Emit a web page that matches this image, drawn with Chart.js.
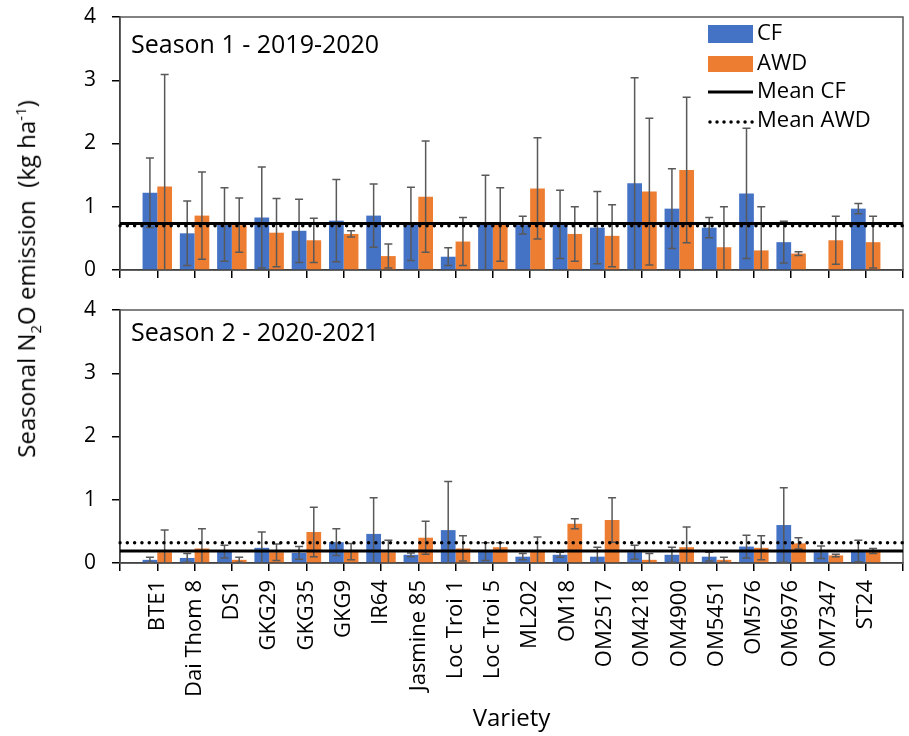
<!DOCTYPE html>
<html>
<head>
<meta charset="utf-8">
<script src="https://cdn.jsdelivr.net/npm/chart.js@4.4.1/dist/chart.umd.min.js"></script>
<style>
  body { margin: 0; background: #fff; }
  #wrap { position: relative; width: 909px; height: 736px; font-family: "Open Sans", sans-serif; }
  #topChart { position: absolute; left: 0; top: 0; }
  #bottomChart { position: absolute; left: 0; top: 290px; }
  #yTitle {
    position: absolute; left: 28px; top: 279px;
    transform: translate(-50%, -50%) rotate(-90deg);
    white-space: nowrap; font-size: 24px; color: #000; line-height: 1;
  }
  #yTitle sub, #yTitle sup { font-size: 15px; }
</style>
</head>
<body>
<div id="wrap">
  <canvas id="topChart" width="909" height="290"></canvas>
  <canvas id="bottomChart" width="909" height="446"></canvas>
  <div id="yTitle">Seasonal N<sub>2</sub>O emission&nbsp; (kg ha<sup>-1</sup>)</div>
</div>
<script>
const varieties = ["BTE1", "Dai Thom 8", "DS1", "GKG29", "GKG35", "GKG9", "IR64", "Jasmine 85",
  "Loc Troi 1", "Loc Troi 5", "ML202", "OM18", "OM2517", "OM4218", "OM4900", "OM5451",
  "OM576", "OM6976", "OM7347", "ST24"];

// season 1 (2019-2020)
const cfS1 = [1.22, 0.58, 0.72, 0.83, 0.62, 0.78, 0.86, 0.73, 0.21, 0.72, 0.71, 0.72, 0.67, 1.37, 0.97, 0.67, 1.21, 0.44, null, 0.97];
const cfErrS1 = [0.55, 0.51, 0.58, 0.80, 0.50, 0.65, 0.50, 0.58, 0.14, 0.78, 0.14, 0.54, 0.57, 1.67, 0.63, 0.16, 1.03, 0.33, null, 0.08];
const awdS1 = [1.32, 0.86, 0.71, 0.59, 0.47, 0.57, 0.22, 1.16, 0.45, 0.72, 1.29, 0.57, 0.54, 1.24, 1.58, 0.36, 0.31, 0.26, 0.47, 0.44];
const awdErrS1 = [1.77, 0.69, 0.43, 0.54, 0.35, 0.05, 0.19, 0.88, 0.38, 0.58, 0.80, 0.43, 0.49, 1.16, 1.15, 0.64, 0.69, 0.03, 0.38, 0.41];
const meanCfS1 = 0.735;
const meanAwdS1 = 0.70;

// season 2 (2020-2021)
const cfS2 = [0.05, 0.08, 0.18, 0.24, 0.16, 0.33, 0.46, 0.13, 0.52, 0.18, 0.10, 0.13, 0.10, 0.17, 0.13, 0.10, 0.26, 0.60, 0.17, 0.19];
const cfErrS2 = [0.04, 0.07, 0.10, 0.25, 0.10, 0.21, 0.57, 0.03, 0.77, 0.14, 0.05, 0.04, 0.15, 0.11, 0.12, 0.07, 0.18, 0.59, 0.10, 0.17];
const awdS2 = [0.17, 0.23, 0.05, 0.17, 0.49, 0.18, 0.17, 0.40, 0.23, 0.25, 0.18, 0.62, 0.68, 0.05, 0.25, 0.05, 0.24, 0.31, 0.12, 0.19];
const awdErrS2 = [0.35, 0.31, 0.04, 0.13, 0.39, 0.13, 0.19, 0.26, 0.20, 0.07, 0.23, 0.08, 0.35, 0.10, 0.32, 0.04, 0.19, 0.09, 0.02, 0.04];
const meanCfS2 = 0.19;
const meanAwdS2 = 0.32;

const yTickValues = [0, 1, 2, 3, 4];

const BLUE = "#4472C4";
const ORANGE = "#ED7D31";
const FONT = "'Open Sans', sans-serif";

Chart.defaults.font.family = FONT;
Chart.defaults.color = "#000";

// one empty slot on each side, like the original axis
const labels = ["", ...varieties, ""];
const pad = (arr) => [null, ...arr, null];

const errorBars = {
  id: "errorBars",
  afterDatasetDraw(chart, args) {
    const ds = chart.data.datasets[args.index];
    if (args.meta.type !== "bar" || !ds.errors) return;
    const y = chart.scales.y;
    const area = chart.chartArea;
    const ctx = chart.ctx;
    ctx.save();
    ctx.beginPath();
    ctx.rect(area.left, area.top - 3, area.width, area.height + 3);
    ctx.clip();
    ctx.strokeStyle = "#595959";
    ctx.lineWidth = 1.5;
    args.meta.data.forEach((bar, i) => {
      const v = ds.data[i];
      const e = ds.errors[i];
      if (v == null || e == null) return;
      const hi = y.getPixelForValue(v + e);
      const lo = y.getPixelForValue(Math.max(0, v - e));
      ctx.beginPath();
      ctx.moveTo(bar.x, hi);
      ctx.lineTo(bar.x, lo);
      ctx.moveTo(bar.x - 4, hi);
      ctx.lineTo(bar.x + 4, hi);
      if (v - e > 0) {
        ctx.moveTo(bar.x - 4, lo);
        ctx.lineTo(bar.x + 4, lo);
      }
      ctx.stroke();
    });
    ctx.restore();
  },
};

const panelBox = {
  id: "panelBox",
  beforeDatasetsDraw(chart) {
    const a = chart.chartArea;
    const ctx = chart.ctx;
    ctx.save();
    ctx.strokeStyle = "#595959";
    ctx.lineWidth = 1.5;
    ctx.strokeRect(a.left, a.top, a.right - a.left, a.bottom - a.top);
    ctx.restore();
  },
  afterDraw(chart, args, opts) {
    if (!opts.text) return;
    const ctx = chart.ctx;
    ctx.save();
    ctx.font = "25px " + FONT;
    ctx.fillStyle = "#000";
    ctx.textBaseline = "alphabetic";
    ctx.fillText(opts.text, 131, chart.chartArea.top + opts.dy);
    ctx.restore();
  },
};

const boxLegend = {
  id: "boxLegend",
  afterDraw(chart, args, opts) {
    if (!opts.show) return;
    const ctx = chart.ctx;
    const x0 = 708, x1 = 753;
    ctx.save();
    ctx.fillStyle = BLUE;
    ctx.fillRect(x0, 25, x1 - x0, 18);
    ctx.fillStyle = ORANGE;
    ctx.fillRect(x0, 56, x1 - x0, 16);
    ctx.strokeStyle = "#000";
    ctx.lineWidth = 3;
    ctx.beginPath();
    ctx.moveTo(x0, 92);
    ctx.lineTo(x1, 92);
    ctx.stroke();
    ctx.setLineDash([0.01, 7]);
    ctx.lineCap = "round";
    ctx.lineWidth = 3.5;
    ctx.beginPath();
    ctx.moveTo(x0 + 2, 122);
    ctx.lineTo(x1, 122);
    ctx.stroke();
    ctx.setLineDash([]);
    ctx.font = "22px " + FONT;
    ctx.fillStyle = "#000";
    ctx.textBaseline = "middle";
    ctx.fillText("CF", 757, 34);
    ctx.fillText("AWD", 757, 64);
    ctx.fillText("Mean CF", 757, 92);
    ctx.fillText("Mean AWD", 757, 121);
    ctx.restore();
  },
};

function makeChart(id, cf, cfErr, awd, awdErr, meanCf, meanAwd, opts) {
  const ctx = document.getElementById(id).getContext("2d");
  return new Chart(ctx, {
    type: "bar",
    data: {
      labels: labels,
      datasets: [
        {
          label: "CF",
          data: pad(cf),
          errors: pad(cfErr),
          backgroundColor: BLUE,
          borderWidth: 0,
          order: 2,
        },
        {
          label: "AWD",
          data: pad(awd),
          errors: pad(awdErr),
          backgroundColor: ORANGE,
          borderWidth: 0,
          order: 2,
        },
        {
          type: "line",
          label: "Mean CF",
          data: labels.map(() => meanCf),
          borderColor: "#000",
          borderWidth: 3,
          pointRadius: 0,
          order: 1,
        },
        {
          type: "line",
          label: "Mean AWD",
          data: labels.map(() => meanAwd),
          borderColor: "#000",
          borderWidth: 3.5,
          borderDash: [0.01, 7.3],
          borderCapStyle: "round",
          pointRadius: 0,
          order: 1,
        },
      ],
    },
    options: {
      responsive: false,
      animation: false,
      events: [],
      layout: {
        padding: { top: opts.padTop, right: 6, left: 0, bottom: 0 },
      },
      datasets: {
        bar: { categoryPercentage: 0.79, barPercentage: 1 },
      },
      scales: {
        x: {
          type: "category",
          offset: false,
          grid: {
            offset: false,
            drawOnChartArea: false,
            drawTicks: true,
            tickLength: 8,
            color: "#000",
            lineWidth: 1.5,
          },
          border: { display: true, color: "#000", width: 1.5 },
          ticks: {
            display: opts.showLabels,
            autoSkip: false,
            maxRotation: 90,
            minRotation: 90,
            padding: 9,
            font: { size: 22 },
            color: "#000",
          },
          title: {
            display: opts.showLabels,
            text: "Variety",
            font: { size: 24 },
            color: "#000",
            padding: { top: 0, bottom: 2 },
          },
          afterFit: (scale) => {
            scale.height = opts.xHeight;
            scale.paddingLeft = 0;
            scale.paddingRight = 0;
          },
        },
        y: {
          min: 0,
          max: 4,
          afterBuildTicks: (scale) => {
            scale.ticks = yTickValues.map((v) => ({ value: v }));
          },
          grid: {
            drawOnChartArea: false,
            drawTicks: true,
            tickLength: 8,
            color: "#000",
            lineWidth: 1.5,
          },
          border: { display: true, color: "#000", width: 1.5 },
          ticks: {
            padding: 16,
            font: { size: 21 },
            color: "#000",
          },
          afterFit: (scale) => {
            scale.width = 120;
            scale.paddingTop = 0;
            scale.paddingBottom = 0;
          },
        },
      },
      plugins: {
        legend: { display: false },
        tooltip: { enabled: false },
        panelBox: { text: opts.title, dy: opts.titleDy },
        boxLegend: { show: opts.legend },
      },
    },
    plugins: [panelBox, errorBars, boxLegend],
  });
}

makeChart("topChart", cfS1, cfErrS1, awdS1, awdErrS1, meanCfS1, meanAwdS1, {
  padTop: 17,
  xHeight: 20,
  showLabels: false,
  title: "Season 1 - 2019-2020",
  titleDy: 36,
  legend: true,
});

makeChart("bottomChart", cfS2, cfErrS2, awdS2, awdErrS2, meanCfS2, meanAwdS2, {
  padTop: 20,
  xHeight: 173,
  showLabels: true,
  title: "Season 2 - 2020-2021",
  titleDy: 31,
  legend: false,
});
</script>
</body>
</html>
